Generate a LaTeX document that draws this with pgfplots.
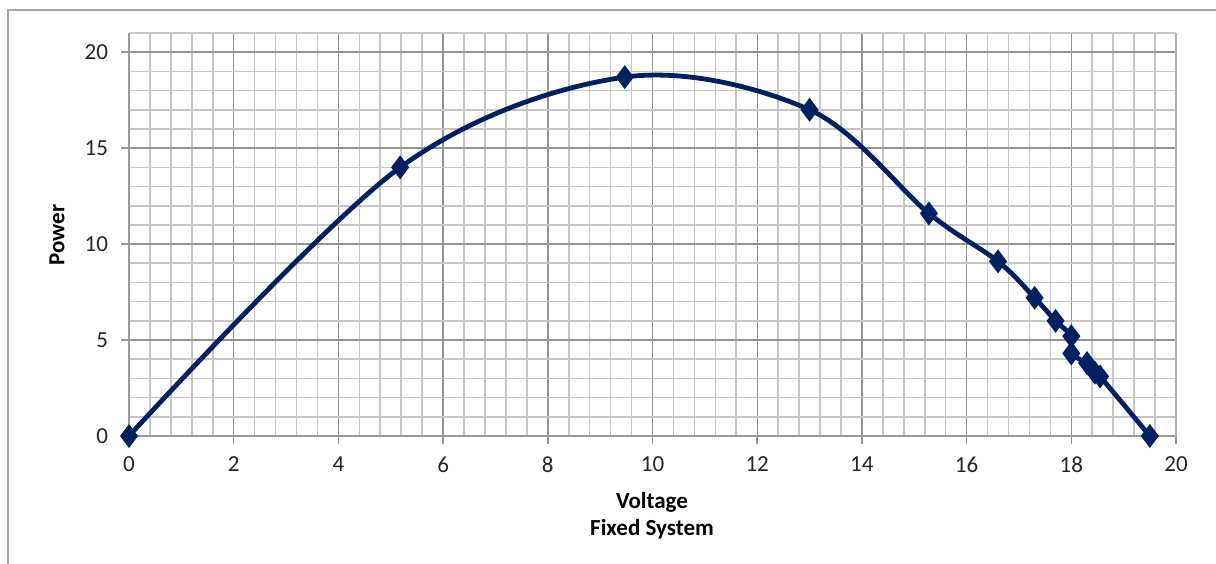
\documentclass[border=0pt]{standalone}
\usepackage{pgfplots}
\pgfplotsset{compat=1.18}
\usepackage{fontspec}
\setmainfont{Carlito}
\definecolor{navy}{RGB}{0,32,96}
\begin{document}
\begin{tikzpicture}
\useasboundingbox (-64.5pt,-63.5pt) rectangle (543.5pt,218pt);
\draw[gray!70, line width=0.8pt] (-60.5pt,-70pt) -- (-60.5pt,213pt) -- (560pt,213pt);
\begin{axis}[
  at={(0,0)}, anchor=south west,
  scale only axis, width=523.5pt, height=201.5pt,
  xmin=0, xmax=20, ymin=0, ymax=21,
  xtick={0,2,...,20}, ytick={0,5,...,20},
  minor x tick num=4, minor y tick num=4,
  grid=both,
  major grid style={gray!85, line width=0.7pt},
  minor grid style={gray!45, line width=0.8pt},
  axis x line*=bottom, axis y line*=left,
  axis line style={gray!80, line width=0.8pt},
  tick style={gray!80, line width=0.8pt},
  major tick length=4pt, minor tick length=0pt,
  tick align=outside,
  /pgf/number format/assume math mode=true,
  ticklabel style={font=\fontsize{11.5}{13}\selectfont, text=black!85},
  xticklabel style={yshift=-3pt},
  yticklabel style={xshift=-3pt},
  clip=false,
]
\draw[gray!45, line width=0.8pt] (axis cs:0,21) -- (axis cs:20,21);
\draw[gray!60, line width=0.8pt] (axis cs:20,0) -- (axis cs:20,21);
\addplot[navy, line width=2.4pt, smooth, tension=0.55, mark=diamond*, mark size=4pt, mark options={solid, fill=navy}]
coordinates {
(0,0) (5.18,14.0) (9.47,18.7) (13.0,17.0) (15.28,11.6) (16.6,9.1) (17.3,7.2) (17.7,6.0) (18.0,5.2) (18.0,4.3) (18.3,3.8) (18.45,3.3) (18.55,3.1) (19.5,0)
};
\end{axis}
\node[font=\fontsize{11.5}{13}\selectfont\bfseries, rotate=90] at (-36pt,100.5pt) {Power};
\node[font=\fontsize{11.5}{13}\selectfont\bfseries] at (261.5pt,-33pt) {Voltage};
\node[font=\fontsize{11.5}{13}\selectfont\bfseries] at (261.5pt,-46.5pt) {Fixed System};
\end{tikzpicture}
\end{document}
